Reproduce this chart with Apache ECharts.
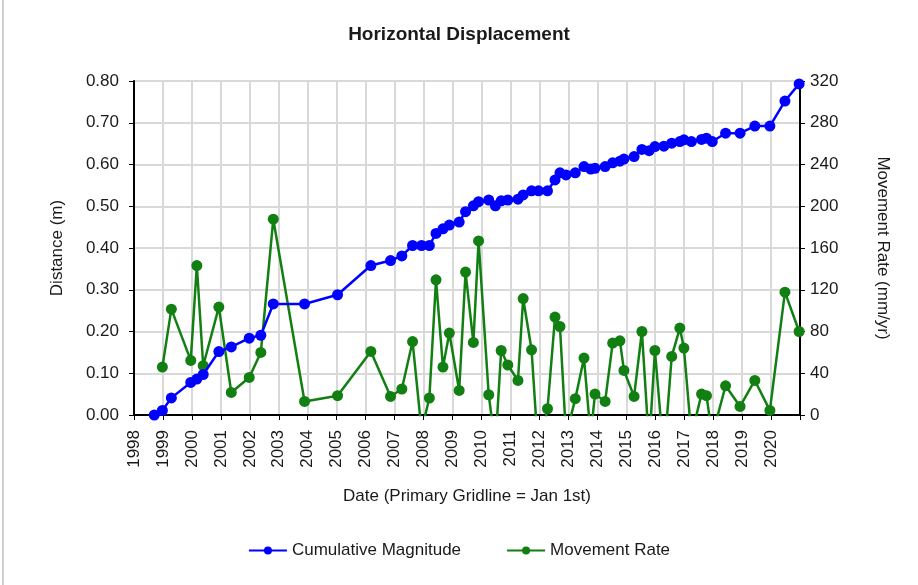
<!DOCTYPE html>
<html>
<head>
<meta charset="utf-8">
<script src="https://cdn.jsdelivr.net/npm/echarts@6/dist/echarts.min.js"></script>
<style>
html,body{margin:0;padding:0;background:#fff;}
#chart{width:918px;height:585px;}
</style>
</head>
<body>
<div id="chart"></div>
<script>
// Dates as decimal years
var dates = [1998.70, 1998.98, 1999.29, 1999.96, 2000.17, 2000.39, 2000.93, 2001.36, 2001.98, 2002.38,
  2002.81, 2003.89, 2005.03, 2006.18, 2006.86, 2007.25, 2007.62, 2007.93, 2008.20, 2008.43,
  2008.67, 2008.89, 2009.23, 2009.45, 2009.72, 2009.90, 2010.25, 2010.48, 2010.68, 2010.91,
  2011.26, 2011.44, 2011.73, 2011.97, 2012.28, 2012.54, 2012.71, 2012.92, 2013.24, 2013.54,
  2013.77, 2013.92, 2014.27, 2014.53, 2014.78, 2014.92, 2015.27, 2015.54, 2015.79, 2015.99,
  2016.30, 2016.57, 2016.85, 2016.99, 2017.25, 2017.60, 2017.77, 2017.97, 2018.43, 2018.93,
  2019.44, 2019.96, 2020.48, 2020.97];
// Cumulative magnitude (m)
var magnitude = [0.000, 0.011, 0.041, 0.078, 0.086, 0.097, 0.152, 0.163, 0.184, 0.191,
  0.266, 0.266, 0.288, 0.358, 0.370, 0.381, 0.406, 0.406, 0.406, 0.435,
  0.446, 0.455, 0.462, 0.487, 0.501, 0.511, 0.515, 0.501, 0.513, 0.515,
  0.517, 0.527, 0.537, 0.537, 0.537, 0.563, 0.580, 0.575, 0.580, 0.595,
  0.589, 0.591, 0.595, 0.604, 0.608, 0.613, 0.619, 0.636, 0.633, 0.643,
  0.644, 0.651, 0.655, 0.659, 0.655, 0.660, 0.663, 0.655, 0.675, 0.675,
  0.692, 0.692, 0.752, 0.793];
// Movement rate (mm/yr)
var rate = [null, 45.9, 101.4, 52.3, 143.2, 47.2, 103.4, 21.6, 36.0, 59.9,
  187.6, 13.0, 18.5, 60.9, 17.8, 24.9, 70.4, -15, 16.3, 129.5,
  45.9, 78.5, 23.5, 136.9, 69.5, 166.8, 19.4, -30, 61.8, 47.9,
  33.1, 111.6, 62.5, -40, 6.0, 93.8, 84.8, -20, 15.6, 54.5,
  -20, 20.1, 13.0, 68.9, 71.1, 42.7, 17.8, 80.0, -30, 61.8,
  -40, 56.1, 83.3, 64.1, -20, 20.1, 18.5, -20, 28.0, 8.2,
  33.1, 4.4, 117.7, 80.0];

var xMin = 1998, xMax = 2021;
var leftMax = 0.8, leftStep = 0.1;
var rightMax = 320, rightStep = 40;

var magData = dates.map(function(d, i){ return [d, magnitude[i]]; });
var rateData = [];
dates.forEach(function(d, i){ if (rate[i] !== null) rateData.push([d, rate[i]]); });

var font = 'Liberation Sans, Arial, sans-serif';
var txt = '#1a1a1a';
var gridColor = '#d9d9d9';

var chart = echarts.init(document.getElementById('chart'), null, {renderer:'canvas'});
chart.setOption({
  backgroundColor: '#fff',
  animation: false,
  title: {
    text: 'Horizontal Displacement',
    left: 'center', top: 20,
    textStyle: {fontFamily: font, fontSize: 19, fontWeight: 'bold', color: txt}
  },
  legend: {
    bottom: 21, left: 'center',
    itemWidth: 38, itemHeight: 10, itemGap: 45,
    textStyle: {fontFamily: font, fontSize: 17, color: txt},
    data: ['Cumulative Magnitude', 'Movement Rate']
  },
  grid: {left: 134, right: 118, top: 81, height: 334, containLabel: false},
  xAxis: {
    type: 'value', min: xMin, max: xMax, interval: 1,
    name: 'Date (Primary Gridline = Jan 1st)',
    nameLocation: 'middle', nameGap: 73,
    nameTextStyle: {fontFamily: font, fontSize: 17, color: txt},
    axisLine: {show: true, onZero: false, lineStyle: {color: '#000', width: 2}},
    axisTick: {show: true, length: 5, lineStyle: {color: '#000', width: 1}},
    axisLabel: {rotate: 90, fontFamily: font, fontSize: 17, color: txt, margin: 15,
      formatter: function(v){ return v >= xMax ? '' : String(v); }},
    splitLine: {show: true, lineStyle: {color: gridColor, width: 2}}
  },
  yAxis: [{
    type: 'value', min: 0, max: leftMax, interval: leftStep,
    name: 'Distance (m)', nameLocation: 'middle', nameGap: 68,
    nameTextStyle: {fontFamily: font, fontSize: 17, color: txt},
    axisLine: {show: true, lineStyle: {color: '#000', width: 2}},
    axisTick: {show: true, length: 5, lineStyle: {color: '#000'}},
    axisLabel: {fontFamily: font, fontSize: 17, color: txt, margin: 15,
      formatter: function(v){ return v.toFixed(2); }},
    splitLine: {show: true, lineStyle: {color: gridColor, width: 2}}
  }, {
    type: 'value', min: 0, max: rightMax, interval: rightStep, position: 'right',
    name: 'Movement Rate (mm/yr)', nameLocation: 'middle', nameGap: 74, nameRotate: -90,
    nameTextStyle: {fontFamily: font, fontSize: 17, color: txt},
    axisLine: {show: true, lineStyle: {color: '#000', width: 2}},
    axisTick: {show: true, length: 5, lineStyle: {color: '#000'}},
    axisLabel: {fontFamily: font, fontSize: 17, color: txt, margin: 10},
    splitLine: {show: false}
  }],
  series: [{
    name: 'Cumulative Magnitude', type: 'line', yAxisIndex: 0,
    data: magData, clip: true,
    symbol: 'circle', symbolSize: 11,
    itemStyle: {color: '#0000ff'},
    lineStyle: {color: '#0000ff', width: 2.5},
    z: 3
  }, {
    name: 'Movement Rate', type: 'line', yAxisIndex: 1,
    data: rateData, clip: true,
    symbol: 'circle', symbolSize: 11,
    itemStyle: {color: '#117f11'},
    lineStyle: {color: '#117f11', width: 2.5},
    z: 2
  }],
  graphic: [{
    type: 'line', shape: {x1: 3, y1: 0, x2: 3, y2: 585},
    style: {stroke: '#d0d0d0', lineWidth: 2}, silent: true
  }]
});
</script>
</body>
</html>
